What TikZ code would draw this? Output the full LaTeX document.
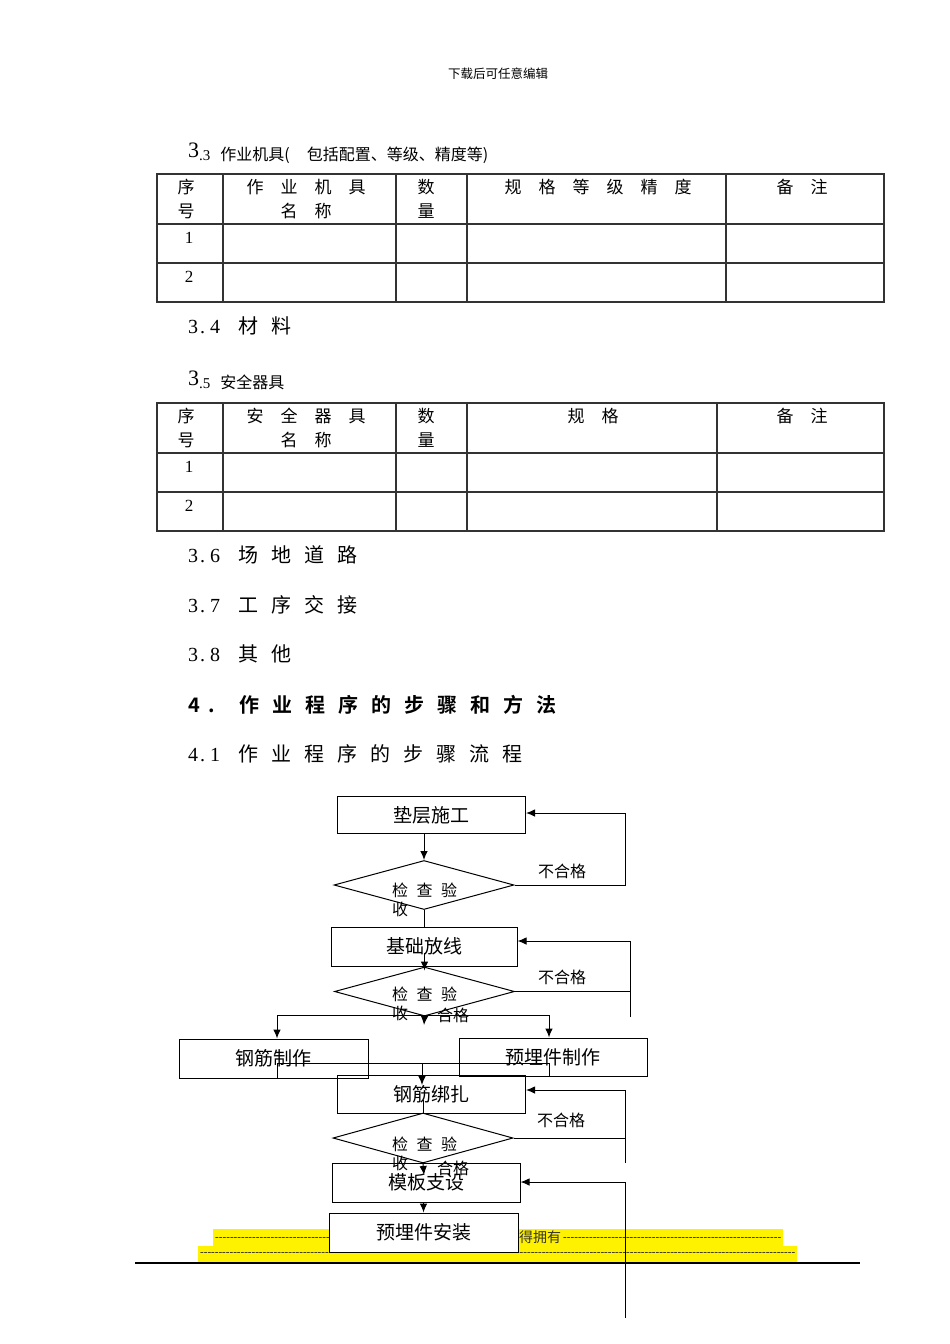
\documentclass[tikz,border=0pt]{standalone}
\usepackage{fontspec}
\setmainfont{Liberation Serif}
\newfontfamily\cjk{Noto Sans CJK SC}
\newfontfamily\cjkbold{Noto Sans CJK SC Bold}
\usetikzlibrary{shapes.geometric,arrows.meta}
\newcommand\gp[1]{\hspace{#1pt}}
\newcommand\dashrule[1]{\hbox to #1pt{\xleaders\hbox{-}\hfill}}

\begin{document}
\begin{tikzpicture}[x=1pt, y=-1pt,
    every node/.style={inner sep=0pt},
    grid/.style={line width=1.2pt, black!80},
    cell/.style={font=\cjk\fontsize{17}{17}\selectfont},
    numcell/.style={font=\fontsize{17}{17}\selectfont},
    sect/.style={anchor=west, font=\fontsize{20}{24}\selectfont},
    box/.style={draw, line width=1pt, minimum width=188pt, minimum height=38pt, font=\cjk\fontsize{19}{19}\selectfont},
    check/.style={draw, diamond, line width=1pt, minimum width=180pt, minimum height=49pt},
    lbl/.style={font=\cjk\fontsize{16}{19}\selectfont},
    flow/.style={-{Latex[length=9pt,width=7.5pt]}, line width=1pt},
    conn/.style={line width=1pt},
    dashfill/.style={anchor=west, text=black!90, font=\fontsize{11}{11}\selectfont}]
                % Page
                \fill[white] (0,0) rectangle (950,1344);
                \useasboundingbox (0,0) rectangle (950,1344);
                \node[font=\cjk\fontsize{12.5}{12.5}\selectfont] (pagehead) at (498,74) {下载后可任意编辑};

                % 3.3 tools table
                \node[anchor=base west, font=\fontsize{22}{22}\selectfont] (h33num) at (188,157) {3};
                \node[anchor=base west, font=\fontsize{15}{15}\selectfont] (h33) at (199,160) {.3\gp{10}{\cjk\fontsize{16}{16}\selectfont 作业机具(\gp{17}包括配置、等级、精度等)}};
                \draw[grid] (157,174) rectangle (884,302)
                    (157,224) -- (884,224) (157,263) -- (884,263)
                    (223,174) -- (223,302) (396,174) -- (396,302)
                    (467,174) -- (467,302) (726,174) -- (726,302);
                \node[cell] (t1no) at (186,187) {序};
                \node[cell] (t1no2) at (186,211) {号};
                \node[cell] (t1name) at (306,187) {作\gp{17}业\gp{17}机\gp{17}具};
                \node[cell] (t1name2) at (306,211) {名\gp{17}称};
                \node[cell] (t1qty) at (426,187) {数};
                \node[cell] (t1qty2) at (426,211) {量};
                \node[cell] (t1spec) at (598,187) {规\gp{17}格\gp{17}等\gp{17}级\gp{17}精\gp{17}度};
                \node[cell] (t1note) at (802,187) {备\gp{17}注};
                \node[numcell] (t1r1) at (189,238) {1};
                \node[numcell] (t1r2) at (189,277) {2};

                % 3.4
                \node[sect] (s34) at (188,326) {3\gp{2}.\gp{5}4\gp{18}{\cjk 材\gp{13}料}};

                % 3.5 safety table
                \node[anchor=base west, font=\fontsize{22}{22}\selectfont] (h35num) at (188,385) {3};
                \node[anchor=base west, font=\fontsize{15}{15}\selectfont] (h35) at (199,388) {.5\gp{10}{\cjk\fontsize{16}{16}\selectfont 安全器具}};
                \draw[grid] (157,403) rectangle (884,531)
                    (157,453) -- (884,453) (157,492) -- (884,492)
                    (223,403) -- (223,531) (396,403) -- (396,531)
                    (467,403) -- (467,531) (717,403) -- (717,531);
                \node[cell] (t2no) at (186,416) {序};
                \node[cell] (t2no2) at (186,440) {号};
                \node[cell] (t2name) at (306,416) {安\gp{17}全\gp{17}器\gp{17}具};
                \node[cell] (t2name2) at (306,440) {名\gp{17}称};
                \node[cell] (t2qty) at (426,416) {数};
                \node[cell] (t2qty2) at (426,440) {量};
                \node[cell] (t2spec) at (593,416) {规\gp{17}格};
                \node[cell] (t2note) at (802,416) {备\gp{17}注};
                \node[numcell] (t2r1) at (189,467) {1};
                \node[numcell] (t2r2) at (189,506) {2};

                % 3.6 - 4.1
                \node[sect] (s36) at (188,555) {3\gp{2}.\gp{5}6\gp{18}{\cjk 场\gp{13}地\gp{13}道\gp{13}路}};
                \node[sect] (s37) at (188,605) {3\gp{2}.\gp{5}7\gp{18}{\cjk 工\gp{13}序\gp{13}交\gp{13}接}};
                \node[sect] (s38) at (188,654) {3\gp{2}.\gp{5}8\gp{18}{\cjk 其\gp{13}他}};
                \node[sect] (s4) at (188,705) {\cjkbold 4\gp{8}.\gp{25}作\gp{13}业\gp{13}程\gp{13}序\gp{13}的\gp{13}步\gp{13}骤\gp{13}和\gp{13}方\gp{13}法};
                \node[sect] (s41) at (188,754) {4\gp{2}.\gp{5}1\gp{18}{\cjk 作\gp{13}业\gp{13}程\gp{13}序\gp{13}的\gp{13}步\gp{13}骤\gp{13}流\gp{13}程}};

                % Highlighted footer lines
                \fill[yellow] (213,1229) rectangle (783,1246);
                \fill[yellow] (198,1246) rectangle (797,1262);
                \node[dashfill] (band1l) at (215,1239) {\dashrule{303}};
                \node[anchor=west, font=\cjk\fontsize{14}{14}\selectfont, text=black!80] (owned) at (519,1237) {得拥有};
                \node[dashfill] (band1r) at (563,1239) {\dashrule{218}};
                \node[dashfill] (band2) at (200,1254) {\dashrule{595}};
                \draw[line width=1.2pt] (135,1263) -- (860,1263);

                % Flow chart steps
                \node[box, minimum height=37pt] (pad) at (431.5,815) {垫层施工};
                \node[check] (chk1) at (424,885) {};
                \node[box, minimum width=186pt, minimum height=39pt] (layout) at (424,946.5) {基础放线};
                \node[check] (chk2) at (424.5,991.5) {};
                \node[box, minimum width=189pt, minimum height=39pt] (rebarmake) at (273.5,1058.5) {钢筋制作};
                \node[box] (embedmake) at (553,1057) {预埋件制作};
                \node[box] (rebartie) at (431.5,1094) {钢筋绑扎};
                \node[check, minimum height=50pt] (chk3) at (423,1138) {};
                \node[box, minimum height=39pt] (form) at (426,1182.5) {模板支设};
                \node[box, minimum width=189pt, minimum height=39pt, fill=white] (embedset) at (423.5,1232.5) {预埋件安装};

                % Check labels
                \node[lbl, anchor=north west, align=left] (chk1txt) at (392,883) {检\gp{8.5}查\gp{8.5}验\\收};
                \node[lbl, anchor=north west, align=left] (chk2txt) at (392,987) {检\gp{8.5}查\gp{8.5}验\\收};
                \node[lbl, anchor=north west, align=left] (chk3txt) at (392,1137) {检\gp{8.5}查\gp{8.5}验\\收};
                \node[lbl] (fail1) at (562,871) {不合格};
                \node[lbl] (fail2) at (562,977) {不合格};
                \node[lbl] (fail3) at (561,1120) {不合格};
                \node[lbl] (pass2txt) at (453,1015) {合格};
                \node[lbl] (pass3txt) at (453,1168) {合格};

                % Connectors
                \coordinate (fb1) at (625,813);
                \coordinate (fb2top) at (630,941);
                \coordinate (fb2bot) at (630,1017);
                \coordinate (ok1) at (424,1025);
                \coordinate (splitL) at (277,1015);
                \coordinate (splitR) at (549,1015);
                \coordinate (joinL) at (277,1063);
                \coordinate (joinR) at (549,1063);
                \coordinate (joinM) at (422,1063);
                \coordinate (tiein) at (422,1085);
                \coordinate (fb3top) at (625,1090);
                \coordinate (fb3bot) at (625,1163);
                \coordinate (ok2) at (424,1175);
                \coordinate (fb4top) at (625,1182);
                \coordinate (fb4bot) at (625,1318);

                \draw[flow] (chk1.north |- pad.south) -- (chk1.north);
                \draw[conn] (chk1.south) -- (chk1.south |- layout.north);
                \draw[flow] (chk1.east) -| (fb1) -- (fb1 -| pad.east);
                \draw[flow] ([yshift=14pt]chk2.north) -- ([yshift=-4pt]chk2.north);
                \draw[conn] (chk2.east) -- (chk2.east -| fb2bot);
                \draw[flow] (fb2bot) -- (fb2top) -- (fb2top -| layout.east);
                \draw[flow] (chk2.south) -- (ok1);
                \draw[conn] (splitL) -- (splitR);
                \draw[flow] (splitL) -- (splitL |- rebarmake.north);
                \draw[flow] (splitR) -- (splitR |- embedmake.north);
                \draw[conn] (joinL |- rebarmake.south) -- (joinL) -- (joinR) -- (joinR |- embedmake.south);
                \draw[flow] (joinM) -- (tiein);
                \draw[conn] (chk3.north) -- ++(0,-13);
                \draw[conn] (chk3.east) -- (chk3.east -| fb3bot);
                \draw[flow] (fb3bot) -- (fb3top) -- (fb3top -| rebartie.east);
                \draw[flow] (chk3.south) -- (ok2);
                \draw[flow] (fb4bot) -- (fb4top) -- (fb4top -| form.east);
                \draw[flow] (embedset.north |- form.south) -- (embedset.north);
            \end{tikzpicture}
\end{document}
